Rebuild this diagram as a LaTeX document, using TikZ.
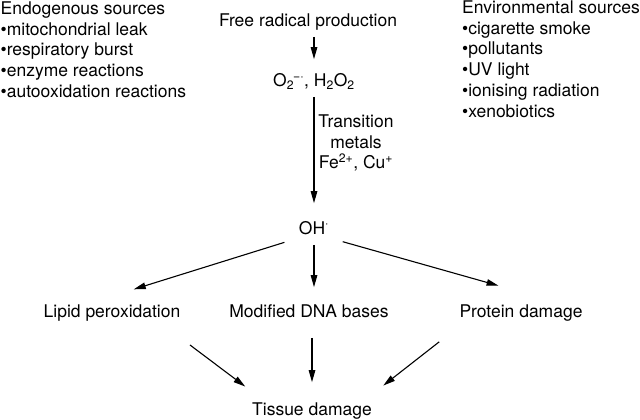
\documentclass[tikz,border=0pt]{standalone}
\usepackage{fontspec}
\setmainfont{TeX Gyre Heros}
\usetikzlibrary{arrows.meta}

\begin{document}
\begin{tikzpicture}[x=1pt, y=-1pt,
    every node/.style={inner sep=0pt, font=\fontsize{17.5}{20.8}\selectfont},
    lbl/.style={anchor=base, text height=12.6pt, text depth=3.7pt},
    arr/.style={-{Triangle[length=12pt,width=6.5pt]}, line width=1.1pt}]
  \useasboundingbox (0,0) rectangle (640,420);
  % sources
  \node[anchor=north west, align=left] (endo) at (0.5,1.4) {Endogenous sources\\\textbullet mitochondrial leak\\\textbullet respiratory burst\\\textbullet enzyme reactions\\\textbullet autooxidation reactions};
  \node[anchor=north west, align=left] (env) at (462,0.4) {Environmental sources\\\textbullet cigarette smoke\\\textbullet pollutants\\\textbullet UV light\\\textbullet ionising radiation\\\textbullet xenobiotics};
  % main chain
  \node[lbl] (free) at (308,27) {Free radical production};
  \node[lbl] (ros) at (314,87) {O\textsubscript{2}\kern-1pt\textsuperscript{−·}, H\textsubscript{2}O\textsubscript{2}};
  \node[anchor=north, align=center] (metals) at (356,114.4) {Transition\\metals\\Fe\textsuperscript{2+}, Cu\textsuperscript{+}};
  \node[lbl] (oh) at (314,234) {OH\textsuperscript{·}};
  \node[lbl] (lipid) at (112,317) {Lipid peroxidation};
  \node[lbl] (dna) at (309,317) {Modified DNA bases};
  \node[lbl] (protein) at (521,317) {Protein damage};
  \node[lbl] (tissue) at (312,415) {Tissue damage};
  % arrows
  \draw[arr, shorten <=6pt, shorten >=15pt] (ros.north |- free.south) -- (ros.north);
  \draw[arr, shorten <=6pt, shorten >=18pt] (ros.south) -- (ros.south |- oh.north);
  \draw[arr, shorten <=15pt, shorten >=50pt] (oh.south west) -- ([xshift=-26pt]lipid.north);
  \draw[arr, shorten <=7pt, shorten >=17pt] (oh.south) -- (oh.south |- dna.north);
  \draw[arr, shorten <=14pt, shorten >=68pt] (oh.south east) -- ([xshift=43pt]protein.north);
  \draw[arr, shorten <=40pt, shorten >=26pt] ([xshift=46pt]lipid.south) -- ([xshift=-46pt]tissue.north);
  \draw[arr, shorten <=17pt, shorten >=20pt] (tissue.north |- dna.south) -- (tissue.north);
  \draw[arr, shorten <=34pt, shorten >=27pt] ([xshift=-55pt]protein.south) -- ([xshift=50pt]tissue.north);
\end{tikzpicture}
\end{document}
